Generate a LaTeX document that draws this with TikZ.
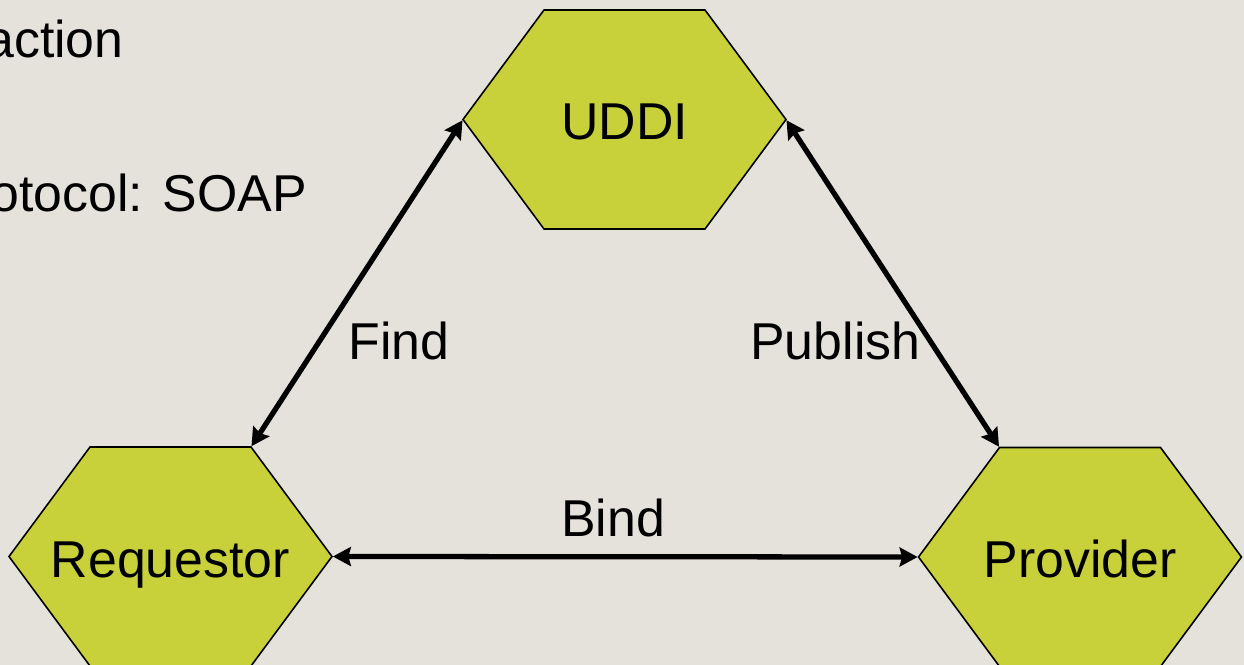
\documentclass[tikz,border=0pt]{standalone}
\usepackage{fontspec}
\setmainfont{Liberation Sans}
\usepackage{tikz}
\usetikzlibrary{arrows.meta,positioning,calc}

\definecolor{slidebg}{HTML}{E4E2DB}
\definecolor{hexfill}{HTML}{C8D13A}

\begin{document}
\begin{tikzpicture}[
    x=0.02cm, y=-0.02cm,
    hexa/.style={draw=black, line width=0.9pt, fill=hexfill, line join=miter},
    hexlabel/.style={anchor=base, inner sep=0pt, font=\fontsize{29.5}{35}\selectfont},
    lbl/.style={inner sep=0pt, font=\fontsize{29.5}{35}\selectfont},
    link/.style={{Stealth[length=3.6mm,width=3.8mm,inset=0.5mm]}-{Stealth[length=3.6mm,width=3.8mm,inset=0.5mm]}, line width=3pt, shorten <=0.5pt, shorten >=0.5pt}
  ]
    \useasboundingbox (0,0) rectangle (1244,665);
    \clip (0,0) rectangle (1244,665);
    \fill[slidebg] (0,0) rectangle (1244,665);

    % bullet text running off the left side
    \node[lbl, anchor=base east] (bul1) at (124,58) {action};
    \node[lbl, anchor=base east] (bul2) at (307,212) {otocol: SOAP};

    % the three parties as flat hexagons
    \foreach \n/\x/\y/\t in {uddi/624.5/119.5/UDDI, req/170.5/556.5/Requestor, prov/1080/557/Provider} {
      \draw[hexa] (\x-161.5,\y) coordinate (\n-w) -- ++(81,-109.5) coordinate (\n-nw)
        -- ++(161,0) coordinate (\n-ne) -- ++(81,109.5) coordinate (\n-e)
        -- ++(-81,109.5) -- ++(-161,0) -- cycle;
      \node[hexlabel] (\n) at (\x,\y+20.5) {\t};
    }

    \draw[link] (req-ne) -- (uddi-w);
    \draw[link] (uddi-e) -- (prov-nw);
    \draw[link] (req-e) -- (prov-w);

    \node[lbl, anchor=base west] (find) at (348,360) {Find};
    \node[lbl, anchor=base west] (pub) at (750,360) {Publish};
    \node[lbl, anchor=base west] (bind) at (561,536) {Bind};
  \end{tikzpicture}
\end{document}
